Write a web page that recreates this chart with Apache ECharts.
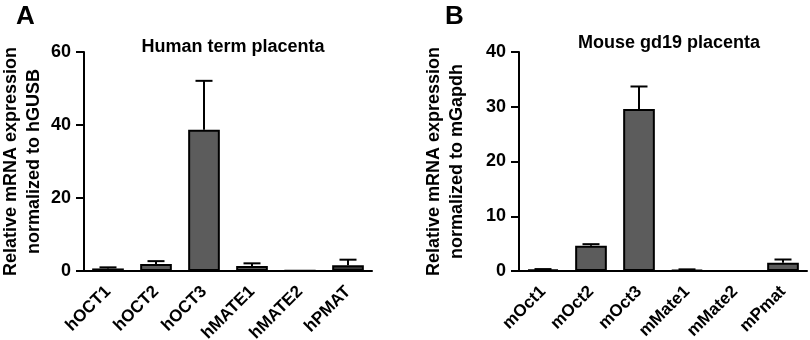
<!DOCTYPE html>
<html>
<head>
<meta charset="utf-8">
<script src="https://cdn.jsdelivr.net/npm/echarts@6/dist/echarts.min.js"></script>
<style>html,body{margin:0;padding:0;background:#fff;}#c{width:810px;height:340px;}</style>
</head>
<body>
<div id="c"></div>
<script>
var hCats = ['hOCT1','hOCT2','hOCT3','hMATE1','hMATE2','hPMAT'];
var hMean = [0.7, 1.9, 38.7, 1.4, 0.1, 1.6];
var hErr  = [0.3, 0.8, 13.4, 0.7, 0, 1.5];
var mCats = ['mOct1','mOct2','mOct3','mMate1','mMate2','mPmat'];
var mMean = [0.3, 4.6, 29.6, 0.2, 0, 1.5];
var mErr  = [0.05, 0.3, 4.1, 0.1, 0, 0.6];
var hTicks = {min:0, max:60, interval:20};
var mTicks = {min:0, max:40, interval:10};

var FONT = 'Liberation Sans, Arial, sans-serif';
var chart = echarts.init(document.getElementById('c'), null, {renderer:'canvas'});

function barData(vals, darkIdx){
  return vals.map(function(v,i){
    return {value:v, itemStyle:{color: darkIdx.indexOf(i)>=0 ? '#383838' : '#5c5c5c'}};
  });
}
function errData(mean, err){
  return mean.map(function(v,i){ return [i, v, v+err[i]]; });
}
function errRender(params, api){
  var lo = api.value(1), hi = api.value(2);
  if (hi - lo <= 0) return null;
  var p1 = api.coord([api.value(0), lo]);
  var p2 = api.coord([api.value(0), hi]);
  var hw = 8.5;
  var st = {stroke:'#000', lineWidth:2};
  return {type:'group', children:[
    {type:'line', shape:{x1:p1[0],y1:p1[1],x2:p2[0],y2:p2[1]}, style:st},
    {type:'line', shape:{x1:p2[0]-hw,y1:p2[1],x2:p2[0]+hw,y2:p2[1]}, style:st}
  ]};
}
function xAxis(idx, cats){
  return {type:'category', gridIndex:idx, data:cats,
    axisLine:{lineStyle:{color:'#000', width:2}},
    axisTick:{show:false},
    axisLabel:{rotate:45, color:'#000', fontWeight:'bold', fontSize:17, fontFamily:FONT, margin:18, interval:0}
  };
}
function yAxis(idx, t, name, gap){
  return {type:'value', gridIndex:idx, min:t.min, max:t.max, interval:t.interval,
    splitLine:{show:false},
    axisLine:{show:true, lineStyle:{color:'#000', width:2}},
    axisTick:{show:true, inside:false, length:8, lineStyle:{color:'#000', width:2}},
    axisLabel:{color:'#000', fontWeight:'bold', fontSize:18, fontFamily:FONT, margin:13},
    name:name, nameLocation:'middle', nameGap:gap, nameRotate:90,
    nameTextStyle:{color:'#000', fontWeight:'bold', fontSize:18, fontFamily:FONT, lineHeight:23}
  };
}

chart.setOption({
  animation:false,
  backgroundColor:'#fff',
  title:[
    {text:'Human term placenta', left:228, top:33, textAlign:'center',
     textStyle:{fontSize:18, fontWeight:'bold', color:'#000', fontFamily:FONT}},
    {text:'Mouse gd19 placenta', left:664, top:29, textAlign:'center',
     textStyle:{fontSize:18, fontWeight:'bold', color:'#000', fontFamily:FONT}},
    {text:'A', left:11, top:-1, textStyle:{fontSize:26, fontWeight:'bold', color:'#000', fontFamily:FONT}},
    {text:'B', left:440, top:-1, textStyle:{fontSize:26, fontWeight:'bold', color:'#000', fontFamily:FONT}}
  ],
  grid:[
    {left:84, top:52, width:288, height:219, containLabel:false, outerBoundsMode:'none'},
    {left:519, top:52, width:288, height:219, containLabel:false, outerBoundsMode:'none'}
  ],
  xAxis:[xAxis(0,hCats), xAxis(1,mCats)],
  yAxis:[
    yAxis(0, hTicks, 'Relative mRNA expression\nnormalized to hGUSB', 38),
    yAxis(1, mTicks, 'Relative mRNA expression\nnormalized to mGapdh', 50)
  ],
  series:[
    {type:'bar', xAxisIndex:0, yAxisIndex:0, data:barData(hMean,[0,5]), barWidth:'66%',
     itemStyle:{borderColor:'#000', borderWidth:2}},
    {type:'custom', xAxisIndex:0, yAxisIndex:0, data:errData(hMean,hErr), renderItem:errRender, z:1},
    {type:'bar', xAxisIndex:1, yAxisIndex:1, data:barData(mMean,[]), barWidth:'66%',
     itemStyle:{borderColor:'#000', borderWidth:2}},
    {type:'custom', xAxisIndex:1, yAxisIndex:1, data:errData(mMean,mErr), renderItem:errRender, z:1}
  ]
});
</script>
</body>
</html>
